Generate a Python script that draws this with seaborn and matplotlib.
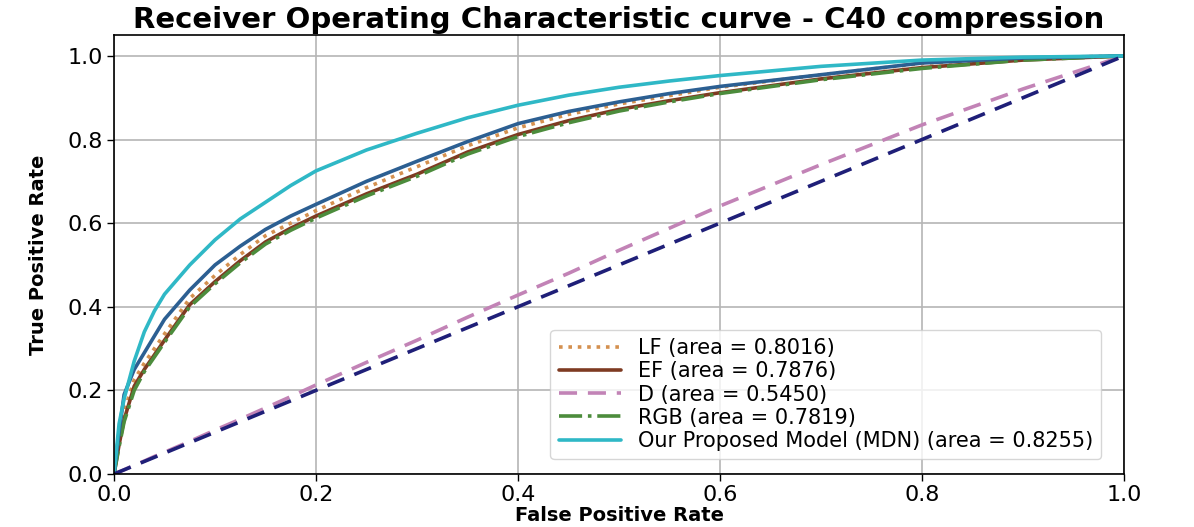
import numpy as np
import pandas as pd
import seaborn as sns
import matplotlib.pyplot as plt
from matplotlib.lines import Line2D

# false positive rate grid shared by all curves
fpr = [0, 0.005, 0.01, 0.02, 0.03, 0.04, 0.05, 0.075, 0.1, 0.125, 0.15, 0.175,
       0.2, 0.25, 0.3, 0.35, 0.4, 0.45, 0.5, 0.55, 0.6, 0.7, 0.8, 0.9, 1.0]

tpr_lf = [0, 0.08, 0.15, 0.225, 0.265, 0.30, 0.335, 0.42, 0.475, 0.525, 0.57,
          0.60, 0.63, 0.685, 0.735, 0.785, 0.828, 0.86, 0.885, 0.905, 0.925,
          0.955, 0.982, 0.995, 1.0]
tpr_ef = [0, 0.07, 0.13, 0.21, 0.25, 0.285, 0.32, 0.405, 0.46, 0.51, 0.555,
          0.588, 0.617, 0.67, 0.717, 0.77, 0.812, 0.845, 0.872, 0.893, 0.912,
          0.945, 0.972, 0.99, 1.0]
tpr_d = [0, 0.005, 0.01, 0.021, 0.031, 0.042, 0.052, 0.078, 0.105, 0.131,
         0.158, 0.185, 0.213, 0.267, 0.32, 0.375, 0.428, 0.48, 0.535, 0.588,
         0.641, 0.74, 0.835, 0.921, 1.0]
tpr_rgb = [0, 0.065, 0.125, 0.2, 0.245, 0.28, 0.315, 0.4, 0.455, 0.505, 0.55,
           0.583, 0.612, 0.665, 0.712, 0.765, 0.807, 0.84, 0.868, 0.89, 0.91,
           0.943, 0.97, 0.99, 1.0]
tpr_mdn = [0, 0.12, 0.18, 0.27, 0.34, 0.39, 0.43, 0.5, 0.56, 0.61, 0.65, 0.69,
           0.725, 0.775, 0.815, 0.852, 0.882, 0.906, 0.925, 0.94, 0.953, 0.975,
           0.99, 0.997, 1.0]
# extra unlabelled curve (dark blue)
tpr_other = [0, 0.1, 0.19, 0.25, 0.29, 0.33, 0.37, 0.44, 0.5, 0.545, 0.585,
             0.617, 0.645, 0.7, 0.748, 0.795, 0.838, 0.867, 0.89, 0.91, 0.927,
             0.955, 0.983, 0.995, 1.0]

labels = ["LF (area = 0.8016)", "EF (area = 0.7876)", "D (area = 0.5450)",
          "RGB (area = 0.7819)", "Our Proposed Model (MDN) (area = 0.8255)"]

sns.set_style("whitegrid")
plt.rcParams['font.family'] = ['DejaVu Sans']
plt.rcParams['text.color'] = 'black'
plt.rcParams['axes.labelcolor'] = 'black'
plt.rcParams['xtick.color'] = 'black'
plt.rcParams['ytick.color'] = 'black'

fig = plt.figure(figsize=(11.94, 5.27), dpi=100)
ax = fig.add_axes([0.0955, 0.1006, 0.8459, 0.833])

lw = 2.6
styles = [
    (tpr_lf, "#d4904f", (0, (1, 1.6))),
    (tpr_ef, "#7e3b22", "-"),
    (tpr_d, "#c283b6", (0, (5, 3))),
    (tpr_rgb, "#4c8c3c", "-."),
]
handles = []
for (tpr, col, ls), lab in zip(styles, labels[:4]):
    sns.lineplot(x=fpr, y=tpr, ax=ax, color=col, linestyle=ls, linewidth=lw,
                 sort=False)
    handles.append(Line2D([], [], color=col, linestyle=ls, linewidth=lw, label=lab))

sns.lineplot(x=fpr, y=tpr_other, ax=ax, color="#2c5f92", linewidth=lw, sort=False)
sns.lineplot(x=fpr, y=tpr_mdn, ax=ax, color="#2fb8c6", linewidth=lw, sort=False)
handles.append(Line2D([], [], color="#2fb8c6", linewidth=lw, label=labels[4]))
sns.lineplot(x=[0, 1], y=[0, 1], ax=ax, color="#1f1f78", linestyle=(0, (5, 3)),
             linewidth=lw, sort=False)

ax.set_xlim(0, 1.0)
ax.set_ylim(0, 1.05)
ax.set_xticks([0, 0.2, 0.4, 0.6, 0.8, 1.0])
ax.set_yticks([0, 0.2, 0.4, 0.6, 0.8, 1.0])
ax.tick_params(axis='both', labelsize=16, length=5, width=1, color='black',
               bottom=True, left=True, pad=3)
ax.grid(True, color="#b5b5b5", linewidth=1.2)
for s in ax.spines.values():
    s.set_color("black")
    s.set_linewidth(1.2)

ax.set_xlabel("False Positive Rate", fontsize=14, fontweight='bold', labelpad=1)
ax.set_ylabel("True Positive Rate", fontsize=14, fontweight='bold', labelpad=14)
ax.set_title("Receiver Operating Characteristic curve - C40 compression",
             fontsize=21, fontweight='bold', pad=5)

ax.legend(handles=handles, loc="lower right", fontsize=15, labelspacing=0.15,
          handlelength=3.0, borderpad=0.4, frameon=True,
          bbox_to_anchor=(0.988, 0.01))

fig.savefig("out.png", dpi=100)
